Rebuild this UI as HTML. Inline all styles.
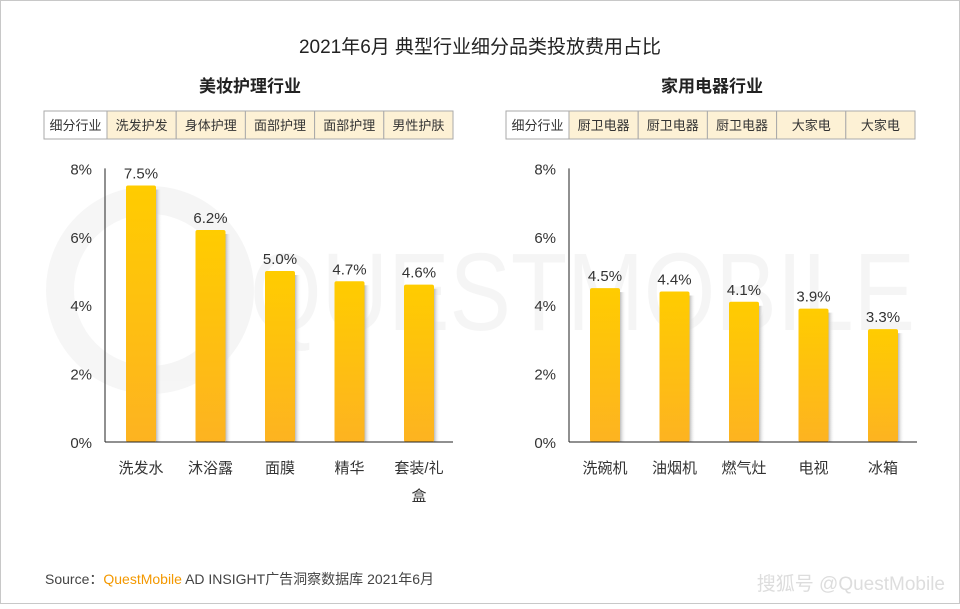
<!DOCTYPE html>
<html><head><meta charset="utf-8"><style>
body{margin:0;background:#fff}
svg text{font-family:"Liberation Sans","Noto Sans CJK SC",sans-serif}
</style></head><body>
<svg width="960" height="604" xmlns="http://www.w3.org/2000/svg">
<defs>
<linearGradient id="g" x1="0" y1="0" x2="0" y2="1"><stop offset="0" stop-color="#ffcc00"/><stop offset="1" stop-color="#fdb321"/></linearGradient>
<linearGradient id="sh" x1="0" y1="0" x2="1" y2="0"><stop offset="0" stop-color="#bbb"/><stop offset="1" stop-color="#fff" stop-opacity="0"/></linearGradient>
</defs>
<rect x="0.5" y="0.5" width="959" height="603" fill="#fff" stroke="#c8c8c8"/>
<g opacity="0.035">
<circle cx="150" cy="290" r="90" fill="none" stroke="#000" stroke-width="28"/>
<text x="250" y="330" font-size="110" fill="#000" textLength="665" lengthAdjust="spacingAndGlyphs">QUESTMOBILE</text>
</g>
<text x="480" y="53" text-anchor="middle" font-size="19" fill="#222">2021年6月 典型行业细分品类投放费用占比</text>
<text x="250" y="92" text-anchor="middle" font-size="17" font-weight="bold" fill="#222">美妆护理行业</text>
<text x="712" y="92" text-anchor="middle" font-size="17" font-weight="bold" fill="#222">家用电器行业</text>
<g id="tables"></g>
<g id="charts"></g>
<text x="45" y="584" font-size="14" fill="#444">Source：<tspan fill="#f39800">QuestMobile</tspan> AD INSIGHT广告洞察数据库 2021年6月</text>
<text x="945" y="590" text-anchor="end" font-size="19" fill="#ddd">搜狐号 @QuestMobile</text>
</svg>
<script>
const leftCats=["洗发水","沐浴露","面膜","精华","套装/礼盒"];
const leftVals=[7.5,6.2,5.0,4.7,4.6];
const leftSub=["洗发护发","身体护理","面部护理","面部护理","男性护肤"];
const rightCats=["洗碗机","油烟机","燃气灶","电视","冰箱"];
const rightVals=[4.5,4.4,4.1,3.9,3.3];
const rightSub=["厨卫电器","厨卫电器","厨卫电器","大家电","大家电"];
const ticks=[0,2,4,6,8];
const NS="http://www.w3.org/2000/svg";
function mk(t,a,p){const e=document.createElementNS(NS,t);for(const k in a)e.setAttribute(k,a[k]);p.appendChild(e);return e;}
const tables=document.getElementById('tables'),charts=document.getElementById('charts');
function table(x0,subs){
  const y=111,h=28;
  let c=mk('rect',{x:x0,y:y,width:63,height:h,fill:'#fff',stroke:'#aaa'},tables);
  
  
  let t=mk('text',{x:x0+31.5,y:y+19,'text-anchor':'middle','font-size':13,fill:'#333'},tables);t.textContent='细分行业';
  
  
  subs.forEach((s,i)=>{const x=x0+63+i*69.2;
    const r=mk('rect',{x:x,y:y,width:69.2,height:h,fill:'#fdf1d5',stroke:'#aaa'},tables);
    
    
    const tt=mk('text',{x:x+34.6,y:y+19,'text-anchor':'middle','font-size':13,fill:'#333'},tables);tt.textContent=s;
    
    
  });
}
table(44,leftSub);table(506,rightSub);
function chart(ax,cats,vals){
  const y0=442,k=34.2,step=69.5,right=ax+348;
  const yS=v=>y0-v*k;
  ticks.forEach(v=>{const t=mk('text',{x:ax-13,y:yS(v)+6,'text-anchor':'end','font-size':15,fill:'#333'},charts);t.textContent=v+'%';
    
    });
  const a=mk('line',{x1:ax,y1:yS(8),x2:ax,y2:y0,stroke:'#222','stroke-width':1},charts);
  
  
  cats.forEach((c,i)=>{const cx=ax+36+i*step,top=yS(vals[i]);
    const s=mk('rect',{x:cx+15,y:top+4,width:6,height:y0-top-4,fill:'url(#sh)'},charts);
    
    
    const b=mk('rect',{x:cx-15,y:top,width:30,height:y0-top,rx:2,fill:'url(#g)'},charts);
    
    
    const l=mk('text',{x:cx,y:top-7,'text-anchor':'middle','font-size':15,fill:'#333'},charts);l.textContent=vals[i].toFixed(1)+'%';
    
    
    const parts=c.length>4?[c.slice(0,4),c.slice(4)]:[c];
    parts.forEach((p,j)=>{const t=mk('text',{x:cx,y:473+j*28,'text-anchor':'middle','font-size':15,fill:'#333'},charts);t.textContent=p;
      
      });
  });
  const bl=mk('line',{x1:ax,y1:y0,x2:right,y2:y0,stroke:'#222','stroke-width':1},charts);
  
  
}
chart(105,leftCats,leftVals);chart(569,rightCats,rightVals);
</script>
</body></html>
